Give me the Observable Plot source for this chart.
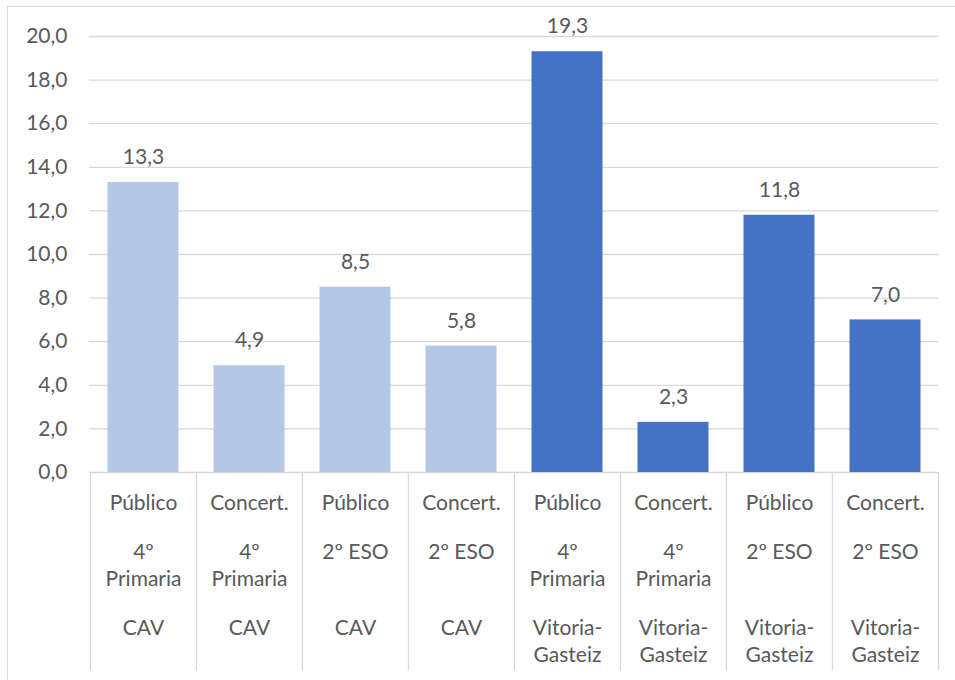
<!DOCTYPE html>
<html>
<head>
<meta charset="utf-8">
<script src="https://cdn.jsdelivr.net/npm/d3@7"></script>
<script src="https://cdn.jsdelivr.net/npm/@observablehq/plot@0.6"></script>
<style>
  html, body { margin: 0; padding: 0; background: #fff; }
  #wrap { position: relative; width: 955px; height: 680px; overflow: hidden; }
  #border { position: absolute; left: 7px; top: 6px; width: 960px; height: 700px; border: 1px solid #D9D9D9; box-sizing: border-box; }
  #chart { position: absolute; left: 0; top: 0; }
</style>
</head>
<body>
<div id="wrap"><div id="border"></div><div id="chart"></div></div>
<script>
const tipo = ["Público","Concert.","Público","Concert.","Público","Concert.","Público","Concert."];
const curso = ["4º\nPrimaria","4º\nPrimaria","2º ESO","2º ESO","4º\nPrimaria","4º\nPrimaria","2º ESO","2º ESO"];
const ambito = ["CAV","CAV","CAV","CAV","Vitoria-\nGasteiz","Vitoria-\nGasteiz","Vitoria-\nGasteiz","Vitoria-\nGasteiz"];
const values = [13.3, 4.9, 8.5, 5.8, 19.3, 2.3, 11.8, 7.0];
const yTicks = [0, 2, 4, 6, 8, 10, 12, 14, 16, 18, 20];
const colors = ["#B4C7E7", "#4472C4"];

const idx = values.map((_, i) => i);
const data = idx.map(i => ({i, tipo: tipo[i], curso: curso[i], ambito: ambito[i], value: values[i], group: i < 4 ? "CAV" : "Vitoria-Gasteiz"}));
const fmt = v => v.toFixed(1).replace(".", ",");
const font = "Lato, 'Open Sans', sans-serif";
const txt = "#595959";
const bw = (938 - 89) / 8;

const chart = Plot.plot({
  width: 955,
  height: 680,
  marginLeft: 89,
  marginRight: 17,
  marginTop: 36,
  marginBottom: 208,
  style: {fontFamily: font, fontSize: "21px", color: txt, background: "transparent", overflow: "visible"},
  x: {domain: idx, padding: 0, axis: null},
  y: {domain: [0, 20], axis: null},
  color: {domain: ["CAV", "Vitoria-Gasteiz"], range: colors},
  marks: [
    Plot.ruleY(yTicks, {y: d => d, stroke: "#D9D9D9", strokeWidth: 1.3}),
    Plot.text(yTicks, {y: d => d, frameAnchor: "left", dx: -22, text: d => fmt(d), textAnchor: "end", fill: txt, fontSize: 21}),
    Plot.barY(data, {x: "i", y: "value", fill: "group", insetLeft: 17.5, insetRight: 17.5}),
    Plot.text(data, {x: "i", y: "value", text: d => fmt(d.value), dy: -25, fill: txt, fontSize: 21}),
    Plot.ruleX(data, {x: "i", y1: 0, y2: -9.1, dx: -bw / 2, stroke: "#D9D9D9", strokeWidth: 1.3}),
    Plot.ruleX(data.slice(-1), {x: "i", y1: 0, y2: -9.1, dx: bw / 2, stroke: "#D9D9D9", strokeWidth: 1.3}),
    Plot.text(data, {x: "i", y: 0, text: "tipo", lineAnchor: "top", dy: 23, fill: txt, fontSize: 21}),
    Plot.text(data, {x: "i", y: 0, text: "curso", lineAnchor: "top", dy: 67, lineHeight: 1.3, fill: txt, fontSize: 21}),
    Plot.text(data, {x: "i", y: 0, text: "ambito", lineAnchor: "top", dy: 143, lineHeight: 1.3, fill: txt, fontSize: 21})
  ]
});
document.getElementById("chart").appendChild(chart);
</script>
</body>
</html>
